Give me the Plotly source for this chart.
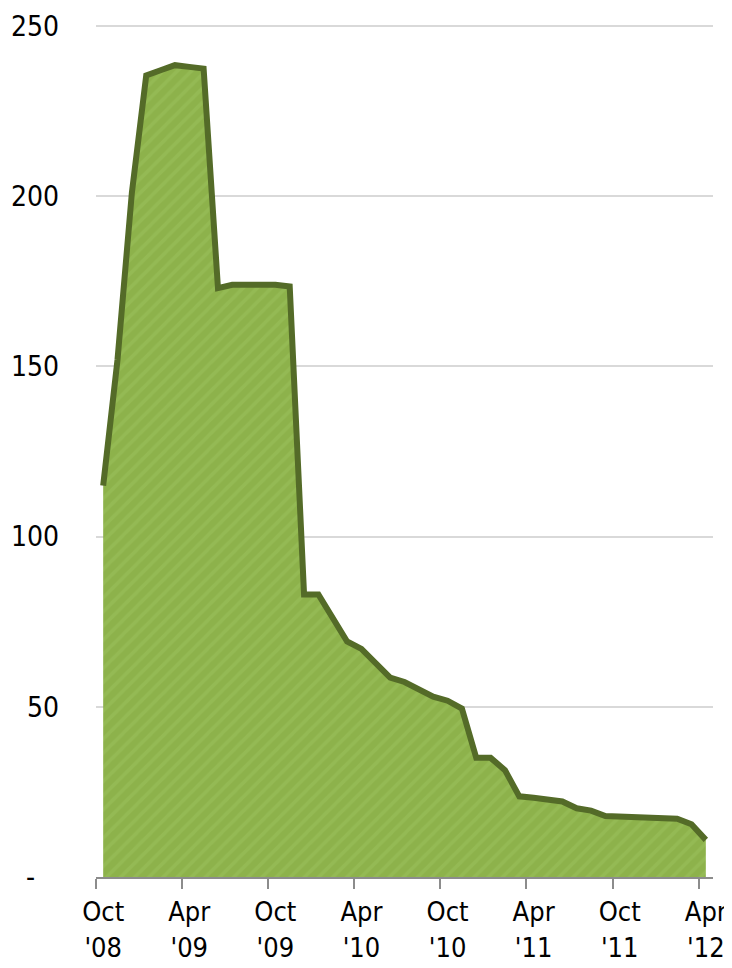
import plotly.graph_objects as go

# Monthly values, Oct '08 .. Apr '12
months = ["Oct '08", "Nov '08", "Dec '08", "Jan '09", "Feb '09", "Mar '09", "Apr '09",
          "May '09", "Jun '09", "Jul '09", "Aug '09", "Sep '09", "Oct '09", "Nov '09",
          "Dec '09", "Jan '10", "Feb '10", "Mar '10", "Apr '10", "May '10", "Jun '10",
          "Jul '10", "Aug '10", "Sep '10", "Oct '10", "Nov '10", "Dec '10", "Jan '11",
          "Feb '11", "Mar '11", "Apr '11", "May '11", "Jun '11", "Jul '11", "Aug '11",
          "Sep '11", "Oct '11", "Nov '11", "Dec '11", "Jan '12", "Feb '12", "Mar '12",
          "Apr '12"]
values = [115, 152, 201, 235.5, 237, 238.5, 238, 237.5, 173, 174, 174, 174, 174, 173.5,
          83, 83, 76, 69.2, 67, 63, 58.6, 57.3, 55.2, 53, 51.8, 49.5, 35, 35, 31.4,
          23.7, 23.3, 22.7, 22.2, 20.2, 19.5, 17.9, 17.7, 17.5, 17.3, 17.2, 17.1, 15.5, 10.9]

x_tick_labels = ["Oct<br>'08", "Apr<br>'09", "Oct<br>'09", "Apr<br>'10",
                 "Oct<br>'10", "Apr<br>'11", "Oct<br>'11", "Apr<br>'12"]
y_tick_vals = [0, 50, 100, 150, 200, 250]
y_tick_text = ["-\u00a0\u00a0\u00a0", "50", "100", "150", "200", "250"]

x = list(range(len(values)))
label_pos = [i for i in x if i % 6 == 0]
tick_pos = [p - 0.5 for p in label_pos]

FONT = "DejaVu Sans Condensed, Roboto, sans-serif"

fig = go.Figure()
fig.add_trace(go.Scatter(
    x=x, y=values, mode="lines",
    line=dict(color="#546b28", width=6),
    fill="tozeroy",
    fillcolor="#8db24b",
    fillpattern=dict(shape="/", bgcolor="#8db24b", fgcolor="#9cc15d",
                     size=10, solidity=0.35),
    hoverinfo="skip",
))

# page body has an 8px margin, so the figure is sized/offset to fit 732x968
fig.update_layout(
    width=724, height=960,
    margin=dict(l=88, r=19, t=17, b=91),
    paper_bgcolor="white", plot_bgcolor="white",
    showlegend=False,
    font=dict(family=FONT, size=28, color="black"),
    xaxis=dict(
        range=[-0.5, len(values) - 0.5],
        tickmode="array", tickvals=label_pos, ticktext=x_tick_labels,
        ticks="", showgrid=False, zeroline=False,
        showline=True, linecolor="#8c8c8c", linewidth=2,
        automargin=False,
        ticklabelstandoff=10,
        tickfont=dict(family=FONT, size=27),
        minor=dict(tickmode="array", tickvals=tick_pos, ticks="outside",
                   ticklen=10, tickwidth=2, tickcolor="#8c8c8c", showgrid=False),
    ),
    yaxis=dict(
        range=[0, 250.3],
        tickmode="array", tickvals=y_tick_vals, ticktext=y_tick_text,
        ticks="", showgrid=True, gridcolor="#d9d9d9", gridwidth=1.5,
        zeroline=False, showline=False,
        automargin=False,
        ticklabelstandoff=36,
        tickfont=dict(family=FONT, size=28),
    ),
)

fig.write_html("out.html")
